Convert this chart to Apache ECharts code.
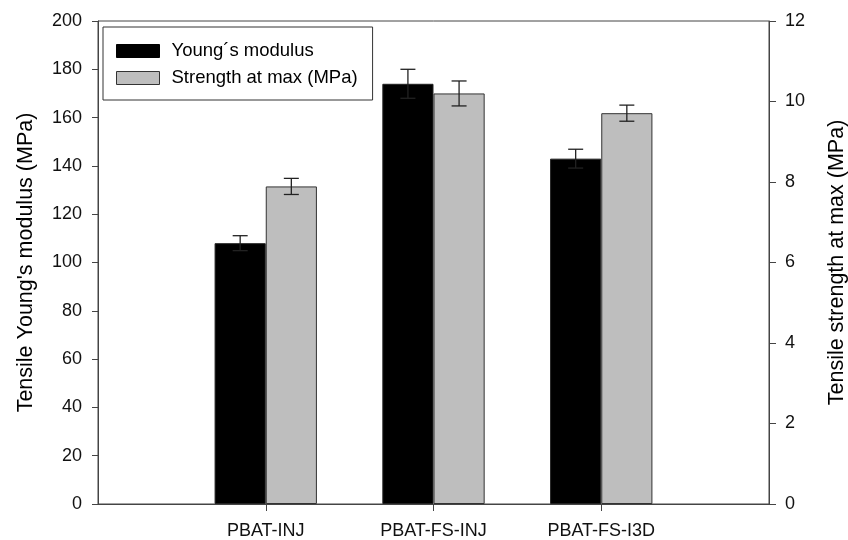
<!DOCTYPE html>
<html>
<head>
<meta charset="utf-8">
<script src="https://cdn.jsdelivr.net/npm/echarts@6/dist/echarts.min.js"></script>
<style>html,body{margin:0;padding:0;background:#fff}#c{width:848px;height:540px}</style>
</head>
<body>
<div id="c"></div>
<script>
// ---- data ----
var categories = ['PBAT-INJ', 'PBAT-FS-INJ', 'PBAT-FS-I3D'];
var modulusValues = [108, 174, 143];      // MPa, left axis
var modulusErrors = [3.1, 6.0, 3.9];
var strengthValues = [7.89, 10.2, 9.71];  // MPa, right axis
var strengthErrors = [0.2, 0.31, 0.2];
var leftTicks = {min: 0, max: 200, interval: 20};
var rightTicks = {min: 0, max: 12, interval: 2};

// padded category axis (empty slot at each end)
var axisCats = [''].concat(categories).concat(['']);
function pad(arr){ return ['-'].concat(arr).concat(['-']); }
function errData(vals, errs){
  return vals.map(function(v, i){ return [i + 1, v, errs[i]]; });
}
var BAR_FRAC = 0.305;
var FONT = 'Liberation Sans, Arial, sans-serif';

function errRender(side){
  return function(params, api){
    var idx = api.value(0), v = api.value(1), e = api.value(2);
    var band = api.size([1, 0])[0];
    var dx = side * band * BAR_FRAC / 2;
    var top = api.coord([idx, v + e]);
    var bot = api.coord([idx, v - e]);
    var x = top[0] + dx;
    var cap = 7.5;
    var st = {stroke: '#222', lineWidth: 1.3};
    return {type: 'group', children: [
      {type: 'line', shape: {x1: x, y1: top[1], x2: x, y2: bot[1]}, style: st},
      {type: 'line', shape: {x1: x - cap, y1: top[1], x2: x + cap, y2: top[1]}, style: st},
      {type: 'line', shape: {x1: x - cap, y1: bot[1], x2: x + cap, y2: bot[1]}, style: st}
    ]};
  };
}

var chart = echarts.init(document.getElementById('c'), null, {renderer: 'canvas'});
chart.setOption({
  animation: false,
  backgroundColor: '#fff',
  textStyle: {fontFamily: FONT},
  grid: {left: 98, right: 79, top: 21, bottom: 36, show: true, borderColor: '#444', borderWidth: 1,
         containLabel: false, outerBoundsMode: 'none'},
  legend: {
    orient: 'vertical', left: 103, top: 27,
    padding: [14, 15, 12, 13],
    borderColor: '#333', borderWidth: 1, backgroundColor: '#fff',
    icon: 'rect',
    itemWidth: 43, itemHeight: 13, itemGap: 7,
    textStyle: {fontSize: 18.5, color: '#000', fontFamily: FONT, lineHeight: 20, padding: [0, 0, 0, 7]},
    data: [
      {name: 'Young\u00b4s modulus', itemStyle: {color: '#000', borderColor: '#000', borderWidth: 1}},
      {name: 'Strength at max (MPa)', itemStyle: {color: '#bebebe', borderColor: '#333', borderWidth: 1}}
    ]
  },
  xAxis: {
    type: 'category', data: axisCats, boundaryGap: false,
    axisLine: {lineStyle: {color: '#444', width: 1}},
    axisTick: {show: true, length: 7, lineStyle: {color: '#444'},
      interval: function(i, v){ return v !== ''; }},
    axisLabel: {fontSize: 18, color: '#111', fontFamily: FONT, margin: 18,
      interval: function(i, v){ return v !== ''; }},
    splitLine: {show: false}
  },
  yAxis: [
    {
      type: 'value', min: leftTicks.min, max: leftTicks.max, interval: leftTicks.interval,
      name: 'Tensile Young\'s modulus (MPa)', nameLocation: 'middle', nameGap: 61,
      nameTextStyle: {fontSize: 21.5, color: '#000', fontFamily: FONT},
      axisLine: {show: true, lineStyle: {color: '#444'}},
      axisTick: {show: true, length: 6, lineStyle: {color: '#444'}},
      axisLabel: {fontSize: 18, color: '#111', fontFamily: FONT, margin: 16},
      splitLine: {show: false}
    },
    {
      type: 'value', min: rightTicks.min, max: rightTicks.max, interval: rightTicks.interval,
      position: 'right',
      name: 'Tensile strength at max (MPa)', nameLocation: 'middle', nameGap: 57,
      nameTextStyle: {fontSize: 21.5, color: '#000', fontFamily: FONT},
      axisLine: {show: true, lineStyle: {color: '#444'}},
      axisTick: {show: true, length: 7, lineStyle: {color: '#444'}},
      axisLabel: {fontSize: 18, color: '#111', fontFamily: FONT, margin: 16},
      splitLine: {show: false}
    }
  ],
  series: [
    {
      name: 'Young\u00b4s modulus', type: 'bar', yAxisIndex: 0,
      data: pad(modulusValues), barWidth: (BAR_FRAC * 100) + '%', barGap: '0%',
      itemStyle: {color: '#000', borderColor: '#222', borderWidth: 1}
    },
    {
      name: 'Strength at max (MPa)', type: 'bar', yAxisIndex: 1,
      data: pad(strengthValues), barWidth: (BAR_FRAC * 100) + '%', barGap: '0%',
      itemStyle: {color: '#bebebe', borderColor: '#333', borderWidth: 1}
    },
    {
      type: 'custom', yAxisIndex: 0, renderItem: errRender(-1),
      data: errData(modulusValues, modulusErrors), z: 5, silent: true
    },
    {
      type: 'custom', yAxisIndex: 1, renderItem: errRender(1),
      data: errData(strengthValues, strengthErrors), z: 5, silent: true
    }
  ]
});
</script>
</body>
</html>
